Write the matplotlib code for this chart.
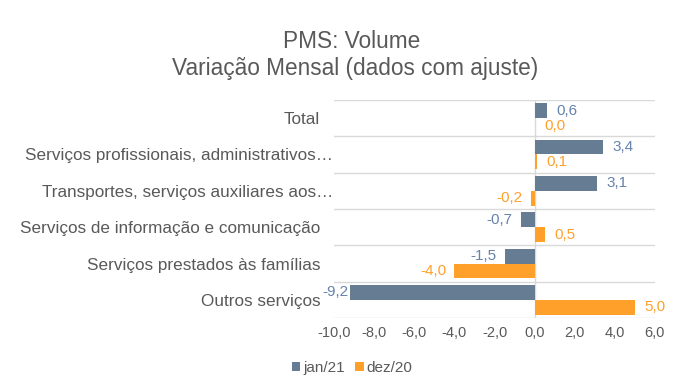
import numpy as np
import matplotlib
matplotlib.use("Agg")
import matplotlib.pyplot as plt
import matplotlib.transforms as mtransforms

plt.rcParams['font.family'] = ['Liberation Sans', 'DejaVu Sans']

# dados (de cima para baixo)
categorias = [
    "Total",
    "Serviços profissionais, administrativos…",
    "Transportes, serviços auxiliares aos…",
    "Serviços de informação e comunicação",
    "Serviços prestados às famílias",
    "Outros serviços",
]
jan21 = [0.6, 3.4, 3.1, -0.7, -1.5, -9.2]
dez20 = [0.0, 0.1, -0.2, 0.5, -4.0, 5.0]
xticks = [-10, -8, -6, -4, -2, 0, 2, 4, 6]

cor_jan = "#657C93"
cor_dez = "#FFA02B"
cor_txt_jan = "#6583AC"
cor_cinza = "#595959"


def fmt(v):
    return f"{v:.1f}".replace(".", ",")


fig = plt.figure(figsize=(6.96, 3.86), dpi=100)
ax = fig.add_axes([0.48, 0.176, 0.461, 0.565])

y = np.arange(len(categorias))
h = 0.41
b1 = ax.barh(y - h / 2, jan21, height=h, color=cor_jan, label="jan/21")
b2 = ax.barh(y + h / 2, dez20, height=h, color=cor_dez, label="dez/20")

ax.set_xlim(-10, 6)
ax.set_ylim(len(categorias) - 0.5, -0.5)

for bars, vals, cor in [(b1, jan21, cor_txt_jan), (b2, dez20, cor_dez)]:
    for bar, v in zip(bars, vals):
        yc = bar.get_y() + bar.get_height() / 2
        if v >= 0:
            ax.annotate(fmt(v), (v, yc), xytext=(7, 0), textcoords="offset points",
                        ha="left", va="center", fontsize=11, color=cor)
        else:
            # rótulo perto da borda do gráfico fica colado na barra
            dx = -1 if v < -9 else -6
            ax.annotate(fmt(v), (v, yc), xytext=(dx, 0), textcoords="offset points",
                        ha="right", va="center", fontsize=11, color=cor)

ax.set_xticks(xticks)
ax.set_xticklabels([fmt(t) for t in xticks], fontsize=10.5, color=cor_cinza)
ax.set_yticks(y)
ax.set_yticklabels(categorias, fontsize=12.3, color=cor_cinza)
ax.tick_params(axis="both", length=0)
ax.tick_params(axis="y", pad=10)
ax.tick_params(axis="x", pad=6)

# reticências ficam "para fora" do alinhamento, como no Excel
desloc = mtransforms.ScaledTranslation(13 / 100, 0, fig.dpi_scale_trans)
for lbl in ax.get_yticklabels():
    if lbl.get_text().endswith("…"):
        lbl.set_transform(lbl.get_transform() + desloc)

ax.set_yticks(np.arange(-0.5, len(categorias)), minor=True)
ax.tick_params(axis="y", which="minor", length=0)
ax.grid(axis="y", which="minor", color="#D9D9D9", linewidth=1)
ax.set_axisbelow(True)
ax.axvline(0, color="#D9D9D9", linewidth=1, zorder=0.5)

for s in ax.spines.values():
    s.set_visible(False)

fig.text(0.505, 0.893, "PMS: Volume", ha="center", va="center",
         fontsize=16.3, color=cor_cinza)
fig.text(0.51, 0.822, "Variação Mensal (dados com ajuste)", ha="center",
         va="center", fontsize=16.3, color=cor_cinza)

fig.legend(loc="center", bbox_to_anchor=(0.506, 0.047), ncol=2, frameon=False,
           fontsize=11, handlelength=0.55, handleheight=0.55, handletextpad=0.2,
           columnspacing=0.7, labelcolor=cor_cinza)

fig.savefig("out.png", dpi=100)
